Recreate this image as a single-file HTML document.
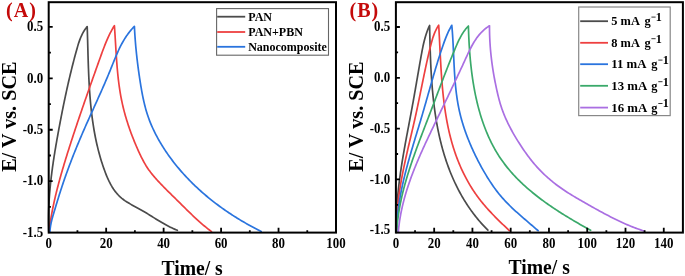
<!DOCTYPE html>
<html><head><meta charset="utf-8"><title>GCD curves</title>
<style>
html,body{margin:0;padding:0;background:#fff;width:685px;height:276px;overflow:hidden;}
svg{display:block;font-family:"Liberation Serif",serif;will-change:transform;}
</style></head><body>
<svg width="685" height="276" viewBox="0 0 685 276">
<rect width="685" height="276" fill="#fff"/>
<path d="M48.80,232.30 L48.75,230.96 L48.70,229.62 L48.65,228.28 L48.62,226.95 L48.59,225.61 L48.57,224.27 L48.55,222.94 L48.54,221.61 L48.53,220.27 L48.53,218.94 L48.54,217.61 L48.55,216.28 L48.57,214.95 L48.60,213.62 L48.63,212.29 L48.66,210.96 L48.71,209.63 L48.75,208.31 L48.80,206.98 L48.86,205.66 L48.92,204.33 L48.99,203.01 L49.06,201.68 L49.14,200.36 L49.22,199.04 L49.31,197.72 L49.40,196.40 L49.50,195.08 L49.60,193.76 L49.71,192.44 L49.82,191.12 L49.94,189.80 L50.05,188.48 L50.18,187.16 L50.31,185.85 L50.44,184.53 L50.57,183.22 L50.72,181.90 L50.86,180.59 L51.01,179.27 L51.16,177.96 L51.31,176.64 L51.47,175.33 L51.64,174.02 L51.80,172.70 L51.97,171.39 L52.15,170.08 L52.32,168.77 L52.50,167.46 L52.68,166.15 L52.87,164.83 L53.06,163.52 L53.25,162.21 L53.44,160.90 L53.64,159.59 L53.84,158.28 L54.04,156.98 L54.25,155.67 L54.46,154.36 L54.67,153.05 L54.88,151.74 L55.09,150.43 L55.31,149.12 L55.53,147.81 L55.75,146.51 L55.97,145.20 L56.20,143.89 L56.43,142.58 L56.65,141.28 L56.89,139.97 L57.12,138.66 L57.35,137.35 L57.59,136.04 L57.82,134.74 L58.06,133.43 L58.30,132.12 L58.54,130.81 L58.78,129.51 L59.02,128.20 L59.27,126.89 L59.51,125.58 L59.76,124.28 L60.01,122.97 L60.25,121.66 L60.50,120.35 L60.75,119.05 L61.01,117.74 L61.26,116.43 L61.52,115.12 L61.77,113.82 L62.03,112.51 L62.29,111.20 L62.55,109.90 L62.81,108.59 L63.07,107.29 L63.34,105.98 L63.61,104.68 L63.87,103.37 L64.14,102.07 L64.41,100.76 L64.69,99.46 L64.96,98.16 L65.24,96.85 L65.52,95.55 L65.80,94.25 L66.08,92.95 L66.36,91.65 L66.65,90.35 L66.93,89.05 L67.22,87.75 L67.51,86.45 L67.80,85.16 L68.10,83.86 L68.39,82.56 L68.69,81.27 L68.99,79.97 L69.29,78.68 L69.60,77.39 L69.90,76.09 L70.21,74.80 L70.52,73.51 L70.84,72.22 L71.15,70.93 L71.47,69.64 L71.79,68.36 L72.11,67.07 L72.43,65.78 L72.76,64.50 L73.08,63.22 L73.41,61.93 L73.75,60.65 L74.08,59.37 L74.42,58.09 L74.76,56.81 L75.10,55.54 L75.45,54.26 L75.79,52.99 L76.14,51.71 L76.50,50.44 L76.85,49.17 L77.21,47.90 L77.58,46.63 L77.95,45.37 L78.34,44.11 L78.74,42.86 L79.16,41.62 L79.59,40.38 L80.05,39.16 L80.53,37.94 L81.04,36.74 L81.57,35.55 L82.14,34.37 L82.74,33.21 L83.38,32.06 L84.06,30.93 L84.77,29.82 L85.54,28.72 L86.34,27.65 L87.20,26.60 L87.25,28.11 L87.30,29.62 L87.35,31.14 L87.40,32.65 L87.44,34.17 L87.49,35.69 L87.53,37.20 L87.57,38.72 L87.62,40.25 L87.66,41.77 L87.70,43.29 L87.74,44.81 L87.78,46.34 L87.82,47.86 L87.86,49.39 L87.91,50.92 L87.95,52.45 L87.99,53.97 L88.03,55.50 L88.08,57.03 L88.12,58.56 L88.17,60.09 L88.22,61.62 L88.27,63.16 L88.32,64.69 L88.37,66.22 L88.43,67.75 L88.49,69.29 L88.55,70.82 L88.61,72.35 L88.67,73.88 L88.74,75.42 L88.81,76.95 L88.88,78.48 L88.96,80.02 L89.03,81.55 L89.12,83.08 L89.20,84.61 L89.29,86.15 L89.38,87.68 L89.48,89.21 L89.58,90.74 L89.69,92.27 L89.80,93.80 L89.91,95.33 L90.03,96.86 L90.15,98.39 L90.28,99.92 L90.41,101.44 L90.55,102.97 L90.69,104.49 L90.84,106.02 L91.00,107.54 L91.16,109.06 L91.32,110.58 L91.50,112.10 L91.67,113.62 L91.86,115.14 L92.05,116.66 L92.25,118.17 L92.45,119.69 L92.66,121.20 L92.88,122.71 L93.11,124.22 L93.34,125.73 L93.58,127.24 L93.83,128.74 L94.08,130.25 L94.35,131.75 L94.62,133.25 L94.90,134.75 L95.19,136.25 L95.48,137.74 L95.79,139.24 L96.10,140.73 L96.42,142.22 L96.75,143.71 L97.10,145.19 L97.45,146.67 L97.80,148.16 L98.17,149.63 L98.55,151.11 L98.94,152.59 L99.34,154.06 L99.75,155.53 L100.17,156.99 L100.60,158.46 L101.04,159.92 L101.49,161.38 L101.95,162.84 L102.42,164.29 L102.90,165.74 L103.40,167.19 L103.90,168.64 L104.42,170.08 L104.95,171.52 L105.50,172.96 L106.05,174.39 L106.63,175.81 L107.22,177.22 L107.83,178.62 L108.47,180.01 L109.12,181.38 L109.80,182.73 L110.51,184.07 L111.24,185.39 L112.00,186.69 L112.80,187.96 L113.62,189.21 L114.48,190.43 L115.37,191.62 L116.30,192.79 L117.27,193.92 L118.28,195.02 L119.33,196.08 L120.42,197.11 L121.56,198.10 L122.74,199.05 L123.96,199.96 L125.22,200.85 L126.51,201.70 L127.83,202.53 L129.17,203.34 L130.53,204.13 L131.90,204.90 L133.28,205.67 L134.68,206.42 L136.07,207.17 L137.46,207.93 L138.84,208.68 L140.21,209.44 L141.56,210.21 L142.90,210.98 L144.23,211.77 L145.55,212.56 L146.85,213.35 L148.15,214.15 L149.44,214.95 L150.73,215.75 L152.01,216.55 L153.30,217.35 L154.57,218.15 L155.85,218.94 L157.13,219.73 L158.42,220.52 L159.71,221.30 L161.00,222.07 L162.30,222.83 L163.61,223.58 L164.92,224.32 L166.25,225.05 L167.59,225.77 L168.94,226.47 L170.31,227.15 L171.69,227.82 L173.09,228.47 L174.50,229.10 L175.94,229.71 L177.40,230.30" stroke="#4b4b4b" stroke-width="1.70" fill="none" stroke-linejoin="round" stroke-linecap="round"/>
<path d="M48.90,232.40 L49.06,231.04 L49.24,229.68 L49.41,228.32 L49.60,226.96 L49.79,225.60 L49.99,224.24 L50.19,222.89 L50.40,221.54 L50.62,220.18 L50.84,218.83 L51.07,217.48 L51.30,216.13 L51.54,214.79 L51.79,213.44 L52.04,212.10 L52.30,210.75 L52.56,209.41 L52.83,208.07 L53.10,206.73 L53.38,205.39 L53.66,204.05 L53.95,202.72 L54.25,201.38 L54.54,200.05 L54.85,198.71 L55.15,197.38 L55.46,196.05 L55.78,194.72 L56.10,193.39 L56.43,192.06 L56.76,190.73 L57.09,189.40 L57.43,188.08 L57.77,186.75 L58.11,185.43 L58.46,184.10 L58.81,182.78 L59.17,181.46 L59.53,180.14 L59.89,178.82 L60.25,177.50 L60.62,176.18 L61.00,174.86 L61.37,173.55 L61.75,172.23 L62.13,170.91 L62.51,169.60 L62.90,168.28 L63.29,166.97 L63.68,165.66 L64.07,164.34 L64.47,163.03 L64.86,161.72 L65.26,160.41 L65.67,159.10 L66.07,157.79 L66.48,156.48 L66.88,155.17 L67.29,153.86 L67.70,152.56 L68.11,151.25 L68.53,149.94 L68.94,148.64 L69.36,147.33 L69.78,146.02 L70.19,144.72 L70.61,143.41 L71.03,142.11 L71.46,140.80 L71.88,139.50 L72.30,138.20 L72.73,136.89 L73.16,135.59 L73.58,134.29 L74.01,132.99 L74.44,131.69 L74.87,130.39 L75.30,129.08 L75.74,127.78 L76.17,126.48 L76.61,125.18 L77.04,123.89 L77.48,122.59 L77.92,121.29 L78.35,119.99 L78.79,118.69 L79.23,117.39 L79.68,116.10 L80.12,114.80 L80.56,113.50 L81.00,112.21 L81.45,110.91 L81.89,109.61 L82.34,108.32 L82.79,107.02 L83.23,105.73 L83.68,104.43 L84.13,103.14 L84.58,101.84 L85.03,100.55 L85.48,99.26 L85.93,97.96 L86.38,96.67 L86.83,95.38 L87.29,94.08 L87.74,92.79 L88.19,91.50 L88.65,90.21 L89.10,88.91 L89.56,87.62 L90.01,86.33 L90.47,85.04 L90.92,83.75 L91.38,82.46 L91.84,81.17 L92.30,79.88 L92.75,78.59 L93.21,77.30 L93.67,76.01 L94.13,74.72 L94.59,73.43 L95.05,72.14 L95.51,70.85 L95.96,69.56 L96.42,68.27 L96.88,66.99 L97.34,65.70 L97.80,64.41 L98.26,63.12 L98.73,61.83 L99.19,60.54 L99.65,59.26 L100.11,57.97 L100.57,56.68 L101.03,55.40 L101.49,54.11 L101.96,52.83 L102.43,51.54 L102.90,50.26 L103.38,48.98 L103.87,47.71 L104.36,46.43 L104.85,45.17 L105.36,43.90 L105.87,42.64 L106.40,41.38 L106.93,40.13 L107.48,38.88 L108.03,37.64 L108.60,36.40 L109.18,35.17 L109.78,33.95 L110.39,32.73 L111.01,31.53 L111.65,30.32 L112.31,29.13 L112.99,27.94 L113.68,26.77 L114.40,25.60 L114.51,27.08 L114.61,28.57 L114.71,30.05 L114.81,31.54 L114.91,33.03 L115.00,34.52 L115.10,36.01 L115.19,37.51 L115.28,39.00 L115.37,40.50 L115.46,42.00 L115.55,43.50 L115.64,45.00 L115.73,46.50 L115.82,48.00 L115.91,49.50 L116.00,51.00 L116.09,52.51 L116.19,54.01 L116.29,55.51 L116.39,57.02 L116.49,58.52 L116.60,60.03 L116.70,61.53 L116.82,63.03 L116.93,64.54 L117.05,66.04 L117.18,67.54 L117.31,69.04 L117.44,70.54 L117.58,72.04 L117.72,73.54 L117.88,75.04 L118.03,76.54 L118.20,78.03 L118.37,79.53 L118.54,81.02 L118.73,82.51 L118.92,84.00 L119.12,85.49 L119.32,86.97 L119.54,88.45 L119.76,89.94 L120.00,91.41 L120.24,92.89 L120.49,94.37 L120.75,95.84 L121.02,97.31 L121.31,98.77 L121.60,100.24 L121.90,101.70 L122.22,103.15 L122.54,104.61 L122.88,106.06 L123.22,107.51 L123.58,108.96 L123.95,110.40 L124.32,111.84 L124.71,113.28 L125.11,114.72 L125.51,116.15 L125.93,117.58 L126.36,119.01 L126.79,120.44 L127.24,121.86 L127.69,123.28 L128.15,124.70 L128.63,126.12 L129.11,127.54 L129.60,128.95 L130.10,130.36 L130.61,131.77 L131.12,133.17 L131.65,134.58 L132.18,135.98 L132.73,137.38 L133.28,138.78 L133.83,140.18 L134.40,141.58 L134.98,142.97 L135.56,144.36 L136.15,145.75 L136.75,147.14 L137.35,148.53 L137.96,149.91 L138.59,151.29 L139.22,152.67 L139.86,154.04 L140.51,155.40 L141.18,156.76 L141.85,158.10 L142.54,159.44 L143.24,160.77 L143.95,162.09 L144.68,163.39 L145.43,164.68 L146.20,165.95 L147.00,167.20 L147.82,168.43 L148.66,169.65 L149.53,170.85 L150.41,172.04 L151.32,173.21 L152.24,174.37 L153.18,175.51 L154.13,176.65 L155.10,177.77 L156.09,178.89 L157.08,180.00 L158.09,181.10 L159.11,182.19 L160.13,183.28 L161.17,184.37 L162.21,185.45 L163.26,186.52 L164.32,187.60 L165.38,188.66 L166.44,189.73 L167.51,190.79 L168.58,191.85 L169.66,192.91 L170.74,193.97 L171.81,195.02 L172.89,196.08 L173.97,197.13 L175.05,198.19 L176.12,199.24 L177.19,200.30 L178.26,201.36 L179.33,202.42 L180.39,203.47 L181.46,204.53 L182.52,205.59 L183.59,206.64 L184.65,207.70 L185.72,208.75 L186.78,209.80 L187.85,210.85 L188.92,211.89 L190.00,212.93 L191.07,213.97 L192.15,215.00 L193.24,216.03 L194.33,217.05 L195.42,218.07 L196.52,219.09 L197.62,220.09 L198.73,221.10 L199.85,222.09 L200.98,223.08 L202.11,224.06 L203.25,225.03 L204.40,226.00 L205.56,226.95 L206.72,227.90 L207.90,228.84 L209.09,229.77 L210.29,230.69 L211.50,231.60" stroke="#ee4040" stroke-width="1.70" fill="none" stroke-linejoin="round" stroke-linecap="round"/>
<path d="M49.90,232.40 L49.96,230.98 L50.07,229.57 L50.23,228.16 L50.42,226.77 L50.64,225.39 L50.90,224.01 L51.18,222.64 L51.50,221.28 L51.83,219.92 L52.18,218.56 L52.55,217.21 L52.94,215.86 L53.33,214.52 L53.73,213.17 L54.13,211.83 L54.53,210.48 L54.94,209.14 L55.34,207.79 L55.74,206.45 L56.15,205.10 L56.56,203.76 L56.96,202.41 L57.37,201.07 L57.79,199.72 L58.20,198.38 L58.61,197.03 L59.03,195.69 L59.45,194.35 L59.88,193.00 L60.30,191.66 L60.73,190.32 L61.17,188.98 L61.61,187.65 L62.05,186.31 L62.49,184.97 L62.94,183.64 L63.39,182.31 L63.85,180.97 L64.31,179.64 L64.77,178.31 L65.23,176.98 L65.70,175.66 L66.18,174.33 L66.65,173.00 L67.13,171.68 L67.61,170.35 L68.10,169.03 L68.58,167.71 L69.08,166.39 L69.57,165.07 L70.07,163.75 L70.57,162.44 L71.07,161.12 L71.58,159.81 L72.09,158.49 L72.60,157.18 L73.11,155.87 L73.63,154.56 L74.15,153.25 L74.67,151.94 L75.20,150.63 L75.73,149.32 L76.26,148.02 L76.79,146.71 L77.33,145.41 L77.86,144.11 L78.40,142.81 L78.95,141.51 L79.49,140.21 L80.04,138.91 L80.59,137.61 L81.14,136.31 L81.70,135.02 L82.26,133.72 L82.81,132.43 L83.38,131.14 L83.94,129.85 L84.50,128.56 L85.07,127.27 L85.64,125.98 L86.21,124.69 L86.78,123.40 L87.36,122.12 L87.93,120.83 L88.51,119.55 L89.08,118.26 L89.66,116.98 L90.24,115.69 L90.82,114.41 L91.40,113.12 L91.98,111.84 L92.56,110.56 L93.15,109.28 L93.73,107.99 L94.31,106.71 L94.89,105.43 L95.47,104.14 L96.05,102.86 L96.63,101.58 L97.21,100.29 L97.79,99.01 L98.37,97.72 L98.95,96.44 L99.53,95.15 L100.10,93.87 L100.67,92.58 L101.25,91.29 L101.82,90.01 L102.39,88.72 L102.95,87.43 L103.52,86.13 L104.08,84.84 L104.65,83.55 L105.20,82.26 L105.76,80.96 L106.32,79.66 L106.87,78.37 L107.42,77.07 L107.96,75.77 L108.51,74.46 L109.05,73.16 L109.58,71.85 L110.12,70.55 L110.65,69.24 L111.17,67.93 L111.70,66.62 L112.22,65.31 L112.75,64.00 L113.27,62.69 L113.80,61.38 L114.33,60.07 L114.87,58.77 L115.41,57.46 L115.95,56.17 L116.51,54.87 L117.07,53.58 L117.64,52.30 L118.22,51.02 L118.81,49.75 L119.41,48.48 L120.02,47.22 L120.65,45.97 L121.30,44.73 L121.95,43.49 L122.63,42.27 L123.32,41.05 L124.04,39.85 L124.77,38.65 L125.52,37.47 L126.30,36.30 L127.09,35.14 L127.91,34.00 L128.76,32.87 L129.63,31.75 L130.53,30.65 L131.45,29.56 L132.40,28.49 L133.39,27.44 L134.40,26.40 L134.48,28.01 L134.56,29.62 L134.65,31.23 L134.75,32.84 L134.85,34.45 L134.96,36.06 L135.07,37.67 L135.19,39.28 L135.31,40.89 L135.44,42.50 L135.57,44.11 L135.71,45.71 L135.86,47.32 L136.01,48.93 L136.17,50.54 L136.33,52.14 L136.49,53.75 L136.67,55.36 L136.84,56.96 L137.02,58.57 L137.21,60.17 L137.40,61.77 L137.60,63.38 L137.80,64.98 L138.00,66.58 L138.21,68.19 L138.43,69.79 L138.65,71.39 L138.87,72.99 L139.10,74.59 L139.34,76.19 L139.58,77.79 L139.82,79.38 L140.07,80.98 L140.32,82.58 L140.57,84.17 L140.83,85.77 L141.10,87.36 L141.37,88.96 L141.65,90.55 L141.94,92.14 L142.24,93.72 L142.54,95.31 L142.86,96.89 L143.19,98.47 L143.53,100.04 L143.88,101.62 L144.24,103.18 L144.62,104.75 L145.02,106.31 L145.43,107.86 L145.85,109.41 L146.30,110.95 L146.76,112.49 L147.24,114.03 L147.74,115.55 L148.26,117.07 L148.80,118.59 L149.36,120.09 L149.94,121.59 L150.54,123.09 L151.16,124.58 L151.80,126.06 L152.45,127.53 L153.12,129.00 L153.81,130.46 L154.51,131.91 L155.23,133.35 L155.97,134.79 L156.72,136.22 L157.49,137.64 L158.27,139.06 L159.07,140.47 L159.88,141.86 L160.70,143.26 L161.54,144.64 L162.38,146.02 L163.24,147.39 L164.12,148.75 L165.00,150.10 L165.89,151.44 L166.80,152.78 L167.72,154.11 L168.64,155.43 L169.58,156.74 L170.53,158.04 L171.49,159.34 L172.46,160.62 L173.44,161.90 L174.43,163.17 L175.43,164.44 L176.44,165.69 L177.46,166.94 L178.49,168.17 L179.53,169.41 L180.57,170.63 L181.63,171.84 L182.70,173.05 L183.78,174.25 L184.86,175.44 L185.96,176.62 L187.06,177.79 L188.17,178.96 L189.29,180.12 L190.42,181.26 L191.56,182.41 L192.71,183.54 L193.86,184.67 L195.02,185.78 L196.20,186.89 L197.37,187.99 L198.56,189.09 L199.76,190.17 L200.96,191.25 L202.17,192.32 L203.38,193.38 L204.61,194.43 L205.84,195.48 L207.08,196.52 L208.32,197.55 L209.57,198.57 L210.83,199.58 L212.10,200.59 L213.37,201.58 L214.65,202.57 L215.94,203.56 L217.23,204.53 L218.52,205.49 L219.83,206.45 L221.14,207.40 L222.45,208.34 L223.77,209.28 L225.10,210.20 L226.43,211.12 L227.77,212.03 L229.11,212.93 L230.46,213.83 L231.81,214.71 L233.17,215.59 L234.53,216.46 L235.90,217.32 L237.27,218.18 L238.65,219.03 L240.03,219.86 L241.41,220.69 L242.80,221.52 L244.20,222.33 L245.59,223.14 L246.99,223.94 L248.40,224.73 L249.81,225.51 L251.22,226.29 L252.64,227.06 L254.06,227.82 L255.48,228.57 L256.90,229.31 L258.33,230.05 L259.77,230.78 L261.20,231.50" stroke="#2a74de" stroke-width="1.70" fill="none" stroke-linejoin="round" stroke-linecap="round"/>
<path d="M396.60,232.30 L396.56,230.97 L396.52,229.63 L396.50,228.30 L396.48,226.97 L396.46,225.64 L396.46,224.31 L396.46,222.98 L396.46,221.66 L396.47,220.33 L396.49,219.00 L396.52,217.68 L396.55,216.35 L396.58,215.03 L396.63,213.70 L396.68,212.38 L396.73,211.06 L396.79,209.74 L396.86,208.42 L396.93,207.10 L397.01,205.78 L397.09,204.46 L397.18,203.14 L397.27,201.82 L397.37,200.50 L397.47,199.19 L397.58,197.87 L397.69,196.56 L397.81,195.24 L397.93,193.93 L398.06,192.61 L398.19,191.30 L398.32,189.99 L398.46,188.67 L398.61,187.36 L398.76,186.05 L398.91,184.74 L399.07,183.43 L399.23,182.12 L399.39,180.81 L399.56,179.50 L399.73,178.19 L399.91,176.88 L400.08,175.57 L400.27,174.26 L400.45,172.96 L400.64,171.65 L400.83,170.34 L401.03,169.04 L401.22,167.73 L401.43,166.43 L401.63,165.12 L401.83,163.81 L402.04,162.51 L402.25,161.20 L402.47,159.90 L402.68,158.60 L402.90,157.29 L403.12,155.99 L403.35,154.68 L403.57,153.38 L403.80,152.08 L404.03,150.78 L404.26,149.47 L404.49,148.17 L404.72,146.87 L404.96,145.56 L405.19,144.26 L405.43,142.96 L405.67,141.66 L405.91,140.36 L406.15,139.05 L406.39,137.75 L406.63,136.45 L406.88,135.15 L407.12,133.85 L407.37,132.55 L407.61,131.24 L407.86,129.94 L408.11,128.64 L408.35,127.34 L408.60,126.04 L408.85,124.74 L409.09,123.43 L409.34,122.13 L409.59,120.83 L409.84,119.53 L410.08,118.23 L410.33,116.93 L410.57,115.62 L410.82,114.32 L411.06,113.02 L411.31,111.72 L411.55,110.41 L411.79,109.11 L412.03,107.81 L412.27,106.50 L412.51,105.20 L412.75,103.90 L412.99,102.59 L413.22,101.29 L413.45,99.99 L413.69,98.68 L413.92,97.38 L414.15,96.07 L414.38,94.77 L414.61,93.46 L414.84,92.16 L415.07,90.85 L415.29,89.55 L415.52,88.24 L415.75,86.94 L415.97,85.63 L416.20,84.33 L416.43,83.02 L416.65,81.72 L416.88,80.41 L417.10,79.11 L417.33,77.80 L417.55,76.50 L417.78,75.19 L418.00,73.89 L418.23,72.59 L418.45,71.28 L418.68,69.98 L418.91,68.67 L419.13,67.37 L419.36,66.07 L419.59,64.76 L419.82,63.46 L420.05,62.16 L420.28,60.86 L420.51,59.55 L420.74,58.25 L420.97,56.95 L421.21,55.65 L421.44,54.35 L421.68,53.05 L421.92,51.75 L422.17,50.46 L422.42,49.16 L422.68,47.87 L422.94,46.58 L423.21,45.29 L423.50,44.01 L423.79,42.73 L424.10,41.46 L424.41,40.19 L424.75,38.93 L425.09,37.67 L425.45,36.42 L425.83,35.17 L426.23,33.93 L426.65,32.70 L427.08,31.48 L427.54,30.27 L428.02,29.06 L428.52,27.86 L429.04,26.68 L429.60,25.50 L429.63,26.85 L429.66,28.20 L429.68,29.56 L429.71,30.91 L429.74,32.27 L429.77,33.63 L429.80,34.98 L429.83,36.34 L429.86,37.71 L429.90,39.07 L429.93,40.43 L429.96,41.80 L430.00,43.17 L430.04,44.53 L430.08,45.90 L430.11,47.27 L430.16,48.64 L430.20,50.02 L430.24,51.39 L430.29,52.76 L430.34,54.14 L430.38,55.51 L430.44,56.89 L430.49,58.26 L430.54,59.64 L430.60,61.02 L430.66,62.39 L430.72,63.77 L430.79,65.15 L430.85,66.53 L430.92,67.91 L430.99,69.29 L431.07,70.67 L431.15,72.05 L431.23,73.43 L431.31,74.81 L431.40,76.19 L431.49,77.57 L431.58,78.96 L431.67,80.34 L431.77,81.72 L431.88,83.10 L431.98,84.48 L432.09,85.86 L432.20,87.24 L432.32,88.62 L432.44,90.00 L432.57,91.38 L432.70,92.75 L432.83,94.13 L432.96,95.51 L433.11,96.89 L433.25,98.26 L433.40,99.64 L433.55,101.01 L433.71,102.39 L433.88,103.76 L434.04,105.13 L434.22,106.50 L434.39,107.87 L434.58,109.24 L434.76,110.61 L434.96,111.98 L435.15,113.35 L435.36,114.71 L435.57,116.08 L435.78,117.44 L436.00,118.80 L436.22,120.16 L436.45,121.52 L436.69,122.88 L436.93,124.23 L437.18,125.59 L437.43,126.94 L437.69,128.29 L437.96,129.64 L438.23,130.99 L438.51,132.34 L438.79,133.68 L439.08,135.03 L439.38,136.37 L439.69,137.71 L440.00,139.04 L440.31,140.38 L440.64,141.71 L440.97,143.04 L441.31,144.37 L441.65,145.70 L442.00,147.03 L442.36,148.35 L442.73,149.67 L443.11,150.99 L443.49,152.30 L443.88,153.62 L444.27,154.93 L444.68,156.23 L445.09,157.54 L445.51,158.84 L445.94,160.14 L446.37,161.44 L446.82,162.73 L447.27,164.03 L447.73,165.31 L448.20,166.60 L448.67,167.88 L449.16,169.16 L449.65,170.44 L450.15,171.71 L450.66,172.98 L451.18,174.24 L451.70,175.50 L452.24,176.76 L452.78,178.01 L453.33,179.26 L453.89,180.51 L454.46,181.75 L455.04,182.99 L455.62,184.22 L456.22,185.45 L456.82,186.67 L457.44,187.89 L458.06,189.11 L458.69,190.32 L459.33,191.52 L459.98,192.73 L460.64,193.92 L461.31,195.11 L461.98,196.30 L462.67,197.48 L463.37,198.66 L464.07,199.83 L464.79,201.00 L465.51,202.16 L466.25,203.31 L466.99,204.46 L467.75,205.61 L468.51,206.74 L469.28,207.88 L470.07,209.00 L470.86,210.12 L471.66,211.24 L472.48,212.35 L473.30,213.45 L474.14,214.55 L474.98,215.64 L475.83,216.72 L476.70,217.80 L477.57,218.87 L478.46,219.94 L479.36,220.99 L480.26,222.04 L481.18,223.09 L482.11,224.13 L483.05,225.16 L484.00,226.18 L484.96,227.20 L485.93,228.20 L486.91,229.21 L487.90,230.20" stroke="#4b4b4b" stroke-width="1.70" fill="none" stroke-linejoin="round" stroke-linecap="round"/>
<path d="M396.60,232.30 L396.58,230.95 L396.56,229.60 L396.56,228.26 L396.56,226.91 L396.58,225.57 L396.60,224.23 L396.63,222.89 L396.67,221.55 L396.71,220.21 L396.77,218.87 L396.83,217.54 L396.90,216.20 L396.98,214.87 L397.06,213.53 L397.16,212.20 L397.26,210.87 L397.36,209.54 L397.48,208.21 L397.60,206.89 L397.73,205.56 L397.86,204.23 L398.00,202.91 L398.15,201.59 L398.30,200.26 L398.46,198.94 L398.63,197.62 L398.80,196.30 L398.98,194.98 L399.16,193.66 L399.35,192.35 L399.55,191.03 L399.75,189.71 L399.95,188.40 L400.16,187.08 L400.38,185.77 L400.60,184.45 L400.82,183.14 L401.05,181.83 L401.28,180.52 L401.52,179.21 L401.76,177.90 L402.00,176.59 L402.25,175.28 L402.51,173.97 L402.76,172.66 L403.02,171.35 L403.29,170.04 L403.55,168.74 L403.82,167.43 L404.09,166.12 L404.37,164.82 L404.65,163.51 L404.93,162.21 L405.21,160.90 L405.50,159.60 L405.79,158.29 L406.08,156.99 L406.37,155.69 L406.66,154.38 L406.96,153.08 L407.25,151.78 L407.55,150.47 L407.85,149.17 L408.15,147.87 L408.45,146.56 L408.76,145.26 L409.06,143.96 L409.37,142.66 L409.67,141.35 L409.98,140.05 L410.28,138.75 L410.59,137.45 L410.89,136.14 L411.20,134.84 L411.50,133.54 L411.81,132.23 L412.11,130.93 L412.42,129.63 L412.72,128.32 L413.03,127.02 L413.33,125.71 L413.63,124.41 L413.93,123.11 L414.23,121.80 L414.52,120.49 L414.82,119.19 L415.11,117.88 L415.40,116.58 L415.69,115.27 L415.98,113.96 L416.26,112.66 L416.55,111.35 L416.83,110.04 L417.11,108.73 L417.39,107.42 L417.66,106.11 L417.94,104.80 L418.21,103.49 L418.49,102.18 L418.76,100.87 L419.03,99.56 L419.30,98.25 L419.57,96.94 L419.84,95.63 L420.10,94.32 L420.37,93.01 L420.64,91.70 L420.91,90.39 L421.17,89.08 L421.44,87.77 L421.71,86.46 L421.97,85.15 L422.24,83.84 L422.51,82.53 L422.77,81.22 L423.04,79.91 L423.31,78.61 L423.58,77.30 L423.85,75.99 L424.12,74.68 L424.40,73.37 L424.67,72.07 L424.95,70.76 L425.22,69.46 L425.50,68.15 L425.78,66.85 L426.06,65.54 L426.35,64.24 L426.63,62.93 L426.92,61.63 L427.21,60.33 L427.50,59.03 L427.80,57.73 L428.09,56.43 L428.39,55.13 L428.69,53.83 L429.00,52.53 L429.31,51.24 L429.62,49.94 L429.93,48.65 L430.25,47.35 L430.57,46.06 L430.89,44.77 L431.23,43.48 L431.57,42.19 L431.92,40.91 L432.29,39.64 L432.68,38.37 L433.08,37.11 L433.51,35.86 L433.96,34.63 L434.44,33.40 L434.94,32.18 L435.48,30.98 L436.04,29.79 L436.65,28.62 L437.29,27.46 L437.97,26.32 L438.70,25.20 L438.78,26.60 L438.87,27.99 L438.95,29.39 L439.02,30.79 L439.10,32.19 L439.18,33.60 L439.25,35.00 L439.33,36.41 L439.40,37.81 L439.47,39.22 L439.54,40.63 L439.61,42.04 L439.68,43.45 L439.75,44.86 L439.83,46.28 L439.90,47.69 L439.97,49.10 L440.04,50.52 L440.11,51.93 L440.18,53.35 L440.25,54.77 L440.33,56.19 L440.40,57.60 L440.48,59.02 L440.55,60.44 L440.63,61.86 L440.71,63.28 L440.79,64.70 L440.87,66.12 L440.96,67.54 L441.05,68.96 L441.14,70.38 L441.23,71.80 L441.32,73.22 L441.42,74.64 L441.52,76.06 L441.62,77.48 L441.72,78.90 L441.83,80.32 L441.94,81.74 L442.06,83.16 L442.17,84.58 L442.30,86.00 L442.42,87.41 L442.55,88.83 L442.68,90.25 L442.82,91.66 L442.96,93.08 L443.11,94.49 L443.26,95.90 L443.41,97.32 L443.57,98.73 L443.74,100.14 L443.91,101.55 L444.09,102.96 L444.27,104.36 L444.45,105.77 L444.64,107.17 L444.84,108.58 L445.05,109.98 L445.25,111.38 L445.47,112.78 L445.69,114.18 L445.92,115.57 L446.16,116.97 L446.40,118.36 L446.64,119.75 L446.90,121.14 L447.16,122.53 L447.43,123.92 L447.71,125.30 L447.99,126.69 L448.28,128.07 L448.58,129.44 L448.89,130.82 L449.21,132.20 L449.53,133.57 L449.86,134.94 L450.20,136.31 L450.55,137.67 L450.91,139.03 L451.27,140.40 L451.65,141.75 L452.03,143.11 L452.43,144.46 L452.83,145.81 L453.24,147.16 L453.66,148.51 L454.09,149.85 L454.54,151.19 L454.99,152.53 L455.45,153.86 L455.92,155.19 L456.40,156.52 L456.89,157.84 L457.40,159.17 L457.91,160.48 L458.43,161.80 L458.97,163.11 L459.51,164.41 L460.06,165.71 L460.63,167.01 L461.20,168.30 L461.79,169.59 L462.39,170.88 L462.99,172.15 L463.61,173.43 L464.24,174.69 L464.88,175.96 L465.53,177.21 L466.19,178.46 L466.87,179.71 L467.55,180.95 L468.24,182.18 L468.95,183.41 L469.66,184.62 L470.39,185.84 L471.13,187.04 L471.88,188.24 L472.64,189.43 L473.41,190.62 L474.20,191.80 L474.99,192.97 L475.80,194.13 L476.62,195.28 L477.45,196.43 L478.29,197.56 L479.14,198.69 L480.00,199.81 L480.88,200.93 L481.76,202.03 L482.66,203.13 L483.56,204.22 L484.48,205.30 L485.40,206.37 L486.34,207.44 L487.28,208.50 L488.23,209.56 L489.18,210.61 L490.15,211.65 L491.12,212.69 L492.09,213.72 L493.08,214.74 L494.06,215.77 L495.06,216.78 L496.06,217.79 L497.06,218.80 L498.07,219.80 L499.08,220.80 L500.09,221.79 L501.11,222.78 L502.13,223.77 L503.15,224.75 L504.17,225.73 L505.20,226.71 L506.22,227.69 L507.25,228.66 L508.27,229.63 L509.30,230.60" stroke="#ee4040" stroke-width="1.70" fill="none" stroke-linejoin="round" stroke-linecap="round"/>
<path d="M396.60,232.30 L396.62,230.93 L396.66,229.57 L396.70,228.21 L396.76,226.84 L396.82,225.48 L396.89,224.13 L396.97,222.77 L397.06,221.42 L397.16,220.06 L397.27,218.71 L397.39,217.36 L397.51,216.01 L397.64,214.67 L397.79,213.32 L397.94,211.98 L398.09,210.63 L398.26,209.29 L398.43,207.95 L398.61,206.62 L398.80,205.28 L398.99,203.94 L399.20,202.61 L399.41,201.28 L399.62,199.95 L399.85,198.62 L400.08,197.29 L400.31,195.96 L400.55,194.63 L400.80,193.31 L401.06,191.98 L401.32,190.66 L401.59,189.34 L401.86,188.01 L402.14,186.69 L402.42,185.38 L402.71,184.06 L403.00,182.74 L403.30,181.42 L403.61,180.11 L403.91,178.79 L404.23,177.48 L404.55,176.17 L404.87,174.85 L405.20,173.54 L405.53,172.23 L405.86,170.92 L406.20,169.61 L406.54,168.30 L406.89,167.00 L407.24,165.69 L407.59,164.38 L407.95,163.08 L408.31,161.77 L408.67,160.47 L409.04,159.16 L409.40,157.86 L409.78,156.55 L410.15,155.25 L410.52,153.95 L410.90,152.64 L411.28,151.34 L411.66,150.04 L412.05,148.74 L412.43,147.44 L412.82,146.14 L413.21,144.84 L413.60,143.54 L413.99,142.24 L414.38,140.94 L414.77,139.64 L415.16,138.34 L415.56,137.04 L415.95,135.74 L416.35,134.44 L416.74,133.14 L417.14,131.84 L417.53,130.54 L417.93,129.24 L418.32,127.94 L418.72,126.64 L419.11,125.34 L419.50,124.04 L419.89,122.74 L420.29,121.44 L420.68,120.14 L421.07,118.83 L421.45,117.53 L421.84,116.23 L422.22,114.93 L422.61,113.63 L422.99,112.32 L423.37,111.02 L423.75,109.72 L424.12,108.41 L424.50,107.11 L424.88,105.81 L425.25,104.50 L425.62,103.20 L426.00,101.89 L426.37,100.59 L426.74,99.29 L427.11,97.98 L427.48,96.68 L427.85,95.37 L428.22,94.07 L428.59,92.77 L428.96,91.46 L429.33,90.16 L429.70,88.86 L430.07,87.55 L430.44,86.25 L430.81,84.95 L431.19,83.65 L431.56,82.34 L431.93,81.04 L432.31,79.74 L432.68,78.44 L433.06,77.14 L433.44,75.84 L433.82,74.55 L434.20,73.25 L434.58,71.95 L434.97,70.66 L435.35,69.36 L435.74,68.06 L436.13,66.77 L436.53,65.48 L436.92,64.19 L437.32,62.89 L437.71,61.60 L438.12,60.31 L438.52,59.02 L438.93,57.74 L439.34,56.45 L439.75,55.17 L440.16,53.88 L440.58,52.60 L441.00,51.32 L441.43,50.03 L441.86,48.75 L442.29,47.48 L442.72,46.20 L443.16,44.92 L443.61,43.65 L444.06,42.38 L444.52,41.11 L444.99,39.85 L445.47,38.60 L445.96,37.34 L446.47,36.10 L446.99,34.86 L447.52,33.63 L448.07,32.41 L448.64,31.20 L449.23,30.00 L449.84,28.80 L450.47,27.62 L451.12,26.46 L451.80,25.30 L451.93,26.74 L452.06,28.18 L452.18,29.62 L452.29,31.07 L452.40,32.51 L452.50,33.96 L452.60,35.41 L452.69,36.87 L452.78,38.32 L452.87,39.78 L452.95,41.24 L453.03,42.70 L453.11,44.16 L453.18,45.62 L453.25,47.09 L453.32,48.55 L453.39,50.02 L453.46,51.48 L453.53,52.95 L453.59,54.42 L453.66,55.89 L453.73,57.36 L453.79,58.83 L453.86,60.30 L453.93,61.77 L454.00,63.24 L454.07,64.71 L454.15,66.19 L454.23,67.66 L454.31,69.13 L454.39,70.60 L454.48,72.07 L454.57,73.54 L454.67,75.01 L454.77,76.47 L454.87,77.94 L454.98,79.41 L455.10,80.87 L455.22,82.33 L455.35,83.80 L455.48,85.26 L455.63,86.72 L455.78,88.18 L455.93,89.63 L456.10,91.09 L456.27,92.54 L456.45,93.99 L456.65,95.44 L456.85,96.89 L457.06,98.33 L457.28,99.77 L457.51,101.21 L457.75,102.65 L458.00,104.08 L458.27,105.51 L458.54,106.94 L458.83,108.37 L459.13,109.79 L459.44,111.21 L459.77,112.63 L460.10,114.04 L460.45,115.45 L460.82,116.86 L461.19,118.26 L461.57,119.66 L461.97,121.06 L462.38,122.45 L462.80,123.85 L463.23,125.23 L463.67,126.62 L464.12,128.00 L464.58,129.38 L465.06,130.76 L465.54,132.13 L466.03,133.50 L466.54,134.87 L467.05,136.23 L467.57,137.60 L468.11,138.95 L468.65,140.31 L469.20,141.66 L469.76,143.01 L470.33,144.36 L470.91,145.70 L471.49,147.04 L472.09,148.38 L472.69,149.72 L473.30,151.05 L473.92,152.38 L474.55,153.71 L475.19,155.03 L475.83,156.35 L476.48,157.67 L477.14,158.98 L477.80,160.29 L478.48,161.60 L479.16,162.90 L479.85,164.20 L480.54,165.50 L481.25,166.79 L481.96,168.07 L482.68,169.36 L483.40,170.63 L484.14,171.90 L484.88,173.17 L485.63,174.43 L486.38,175.68 L487.15,176.93 L487.92,178.18 L488.70,179.41 L489.48,180.65 L490.28,181.87 L491.09,183.09 L491.90,184.30 L492.72,185.50 L493.56,186.69 L494.40,187.87 L495.26,189.05 L496.13,190.22 L497.01,191.37 L497.90,192.52 L498.80,193.66 L499.72,194.78 L500.65,195.90 L501.60,197.00 L502.56,198.10 L503.53,199.18 L504.51,200.25 L505.50,201.31 L506.51,202.37 L507.53,203.41 L508.55,204.45 L509.59,205.48 L510.63,206.50 L511.69,207.51 L512.75,208.52 L513.82,209.52 L514.89,210.52 L515.97,211.51 L517.06,212.49 L518.15,213.47 L519.25,214.44 L520.35,215.41 L521.46,216.38 L522.57,217.34 L523.68,218.30 L524.79,219.26 L525.90,220.22 L527.02,221.17 L528.13,222.12 L529.25,223.07 L530.36,224.03 L531.48,224.98 L532.59,225.93 L533.70,226.88 L534.80,227.83 L535.91,228.79 L537.01,229.74 L538.10,230.70" stroke="#2a74de" stroke-width="1.70" fill="none" stroke-linejoin="round" stroke-linecap="round"/>
<path d="M396.60,232.30 L396.69,230.90 L396.78,229.51 L396.89,228.11 L397.00,226.72 L397.13,225.33 L397.27,223.95 L397.41,222.56 L397.57,221.18 L397.73,219.80 L397.90,218.43 L398.09,217.05 L398.28,215.68 L398.48,214.31 L398.68,212.94 L398.90,211.57 L399.13,210.21 L399.36,208.85 L399.60,207.49 L399.85,206.13 L400.11,204.77 L400.37,203.42 L400.65,202.07 L400.93,200.71 L401.22,199.37 L401.51,198.02 L401.81,196.67 L402.12,195.33 L402.44,193.99 L402.76,192.65 L403.09,191.31 L403.43,189.97 L403.77,188.63 L404.12,187.30 L404.47,185.97 L404.83,184.63 L405.20,183.30 L405.57,181.98 L405.95,180.65 L406.33,179.32 L406.72,178.00 L407.12,176.68 L407.51,175.35 L407.92,174.03 L408.33,172.71 L408.74,171.40 L409.16,170.08 L409.58,168.76 L410.01,167.45 L410.44,166.13 L410.88,164.82 L411.31,163.51 L411.76,162.20 L412.20,160.89 L412.65,159.58 L413.11,158.27 L413.57,156.96 L414.03,155.66 L414.49,154.35 L414.96,153.05 L415.42,151.74 L415.90,150.44 L416.37,149.13 L416.85,147.83 L417.33,146.53 L417.81,145.23 L418.29,143.93 L418.78,142.63 L419.26,141.33 L419.75,140.03 L420.24,138.73 L420.74,137.43 L421.23,136.13 L421.72,134.84 L422.22,133.54 L422.71,132.24 L423.21,130.94 L423.71,129.65 L424.21,128.35 L424.71,127.05 L425.20,125.76 L425.70,124.46 L426.20,123.17 L426.70,121.87 L427.20,120.57 L427.70,119.28 L428.20,117.98 L428.70,116.68 L429.19,115.39 L429.69,114.09 L430.18,112.80 L430.68,111.50 L431.17,110.20 L431.66,108.90 L432.16,107.61 L432.65,106.31 L433.14,105.01 L433.63,103.72 L434.12,102.42 L434.61,101.12 L435.10,99.83 L435.59,98.53 L436.08,97.23 L436.57,95.94 L437.06,94.64 L437.55,93.34 L438.04,92.05 L438.53,90.75 L439.02,89.46 L439.52,88.16 L440.01,86.87 L440.50,85.57 L440.99,84.28 L441.49,82.99 L441.98,81.69 L442.48,80.40 L442.97,79.11 L443.47,77.81 L443.97,76.52 L444.46,75.23 L444.96,73.94 L445.46,72.65 L445.97,71.36 L446.47,70.07 L446.98,68.79 L447.48,67.50 L447.99,66.21 L448.50,64.93 L449.01,63.64 L449.52,62.36 L450.03,61.07 L450.55,59.79 L451.07,58.51 L451.59,57.23 L452.11,55.95 L452.63,54.67 L453.16,53.39 L453.69,52.11 L454.22,50.84 L454.75,49.56 L455.28,48.29 L455.82,47.01 L456.37,45.74 L456.92,44.48 L457.48,43.22 L458.05,41.97 L458.64,40.72 L459.24,39.49 L459.86,38.27 L460.49,37.06 L461.15,35.87 L461.84,34.69 L462.55,33.53 L463.28,32.39 L464.05,31.26 L464.85,30.16 L465.68,29.08 L466.55,28.03 L467.45,27.00 L468.40,26.00 L468.44,27.55 L468.49,29.10 L468.54,30.66 L468.60,32.22 L468.66,33.78 L468.72,35.35 L468.79,36.92 L468.86,38.50 L468.94,40.08 L469.02,41.66 L469.11,43.25 L469.20,44.83 L469.30,46.43 L469.40,48.02 L469.51,49.62 L469.62,51.21 L469.74,52.81 L469.87,54.42 L470.00,56.02 L470.14,57.63 L470.28,59.23 L470.43,60.84 L470.59,62.45 L470.76,64.06 L470.93,65.67 L471.11,67.28 L471.29,68.89 L471.49,70.50 L471.69,72.11 L471.89,73.72 L472.11,75.33 L472.33,76.94 L472.57,78.55 L472.81,80.16 L473.06,81.76 L473.31,83.37 L473.58,84.97 L473.85,86.57 L474.14,88.17 L474.43,89.77 L474.73,91.36 L475.04,92.96 L475.36,94.55 L475.70,96.14 L476.04,97.72 L476.39,99.30 L476.75,100.88 L477.12,102.45 L477.50,104.03 L477.89,105.59 L478.29,107.16 L478.71,108.72 L479.13,110.27 L479.57,111.82 L480.01,113.37 L480.47,114.91 L480.94,116.44 L481.42,117.97 L481.92,119.50 L482.42,121.02 L482.94,122.53 L483.47,124.04 L484.01,125.54 L484.57,127.03 L485.14,128.52 L485.72,130.01 L486.31,131.48 L486.92,132.95 L487.54,134.41 L488.17,135.86 L488.82,137.31 L489.48,138.75 L490.15,140.18 L490.84,141.60 L491.54,143.02 L492.26,144.42 L492.99,145.82 L493.74,147.21 L494.50,148.59 L495.27,149.96 L496.06,151.32 L496.87,152.67 L497.69,154.01 L498.53,155.35 L499.38,156.67 L500.25,157.98 L501.13,159.28 L502.03,160.57 L502.95,161.85 L503.88,163.12 L504.82,164.38 L505.79,165.63 L506.76,166.87 L507.76,168.10 L508.76,169.32 L509.78,170.53 L510.82,171.73 L511.86,172.92 L512.92,174.09 L514.00,175.26 L515.09,176.42 L516.19,177.57 L517.30,178.72 L518.42,179.85 L519.56,180.97 L520.70,182.08 L521.86,183.19 L523.03,184.28 L524.21,185.37 L525.40,186.45 L526.60,187.52 L527.81,188.58 L529.02,189.63 L530.25,190.67 L531.49,191.71 L532.73,192.73 L533.99,193.75 L535.25,194.76 L536.52,195.76 L537.80,196.76 L539.08,197.75 L540.37,198.72 L541.67,199.70 L542.98,200.66 L544.29,201.62 L545.60,202.57 L546.93,203.51 L548.25,204.44 L549.59,205.37 L550.93,206.29 L552.27,207.20 L553.61,208.11 L554.97,209.01 L556.32,209.90 L557.68,210.79 L559.04,211.67 L560.40,212.54 L561.77,213.41 L563.14,214.27 L564.51,215.12 L565.88,215.97 L567.26,216.81 L568.63,217.65 L570.01,218.48 L571.39,219.30 L572.77,220.12 L574.14,220.94 L575.52,221.75 L576.90,222.55 L578.28,223.35 L579.65,224.14 L581.03,224.93 L582.40,225.71 L583.78,226.48 L585.15,227.26 L586.51,228.02 L587.88,228.79 L589.24,229.55 L590.60,230.30" stroke="#3aa96a" stroke-width="1.70" fill="none" stroke-linejoin="round" stroke-linecap="round"/>
<path d="M398.30,232.00 L398.43,230.55 L398.57,229.11 L398.72,227.67 L398.88,226.23 L399.06,224.79 L399.24,223.36 L399.44,221.93 L399.65,220.50 L399.88,219.08 L400.11,217.66 L400.35,216.25 L400.61,214.83 L400.87,213.42 L401.15,212.01 L401.44,210.61 L401.73,209.21 L402.04,207.81 L402.36,206.41 L402.68,205.02 L403.02,203.63 L403.37,202.24 L403.72,200.85 L404.08,199.47 L404.46,198.09 L404.84,196.71 L405.23,195.33 L405.63,193.96 L406.04,192.59 L406.45,191.22 L406.87,189.85 L407.31,188.49 L407.75,187.13 L408.19,185.77 L408.65,184.41 L409.11,183.06 L409.58,181.70 L410.05,180.35 L410.53,179.00 L411.02,177.66 L411.52,176.31 L412.02,174.97 L412.53,173.63 L413.04,172.29 L413.56,170.95 L414.08,169.61 L414.61,168.28 L415.15,166.95 L415.69,165.62 L416.24,164.29 L416.79,162.96 L417.34,161.63 L417.90,160.31 L418.47,158.99 L419.03,157.67 L419.61,156.35 L420.18,155.03 L420.76,153.71 L421.35,152.39 L421.94,151.08 L422.53,149.76 L423.12,148.45 L423.72,147.14 L424.32,145.83 L424.92,144.52 L425.52,143.21 L426.13,141.91 L426.74,140.60 L427.35,139.29 L427.96,137.99 L428.58,136.69 L429.20,135.38 L429.81,134.08 L430.43,132.78 L431.05,131.48 L431.67,130.18 L432.30,128.88 L432.92,127.58 L433.54,126.29 L434.16,124.99 L434.79,123.69 L435.41,122.40 L436.03,121.10 L436.66,119.80 L437.28,118.51 L437.91,117.21 L438.53,115.92 L439.15,114.62 L439.78,113.33 L440.40,112.04 L441.02,110.74 L441.65,109.45 L442.27,108.15 L442.89,106.86 L443.52,105.57 L444.14,104.27 L444.76,102.98 L445.38,101.69 L446.01,100.39 L446.63,99.10 L447.25,97.80 L447.87,96.51 L448.49,95.21 L449.11,93.92 L449.73,92.62 L450.35,91.33 L450.97,90.03 L451.59,88.73 L452.20,87.44 L452.82,86.14 L453.44,84.84 L454.06,83.54 L454.67,82.24 L455.29,80.94 L455.90,79.64 L456.52,78.34 L457.13,77.03 L457.74,75.73 L458.35,74.43 L458.96,73.12 L459.58,71.81 L460.18,70.51 L460.79,69.20 L461.40,67.89 L462.01,66.58 L462.62,65.27 L463.22,63.96 L463.83,62.64 L464.43,61.33 L465.03,60.01 L465.63,58.69 L466.24,57.38 L466.84,56.06 L467.45,54.75 L468.06,53.44 L468.68,52.13 L469.31,50.84 L469.94,49.55 L470.59,48.27 L471.25,47.00 L471.93,45.74 L472.62,44.49 L473.33,43.26 L474.05,42.04 L474.80,40.85 L475.57,39.67 L476.36,38.50 L477.18,37.36 L478.03,36.25 L478.90,35.15 L479.80,34.08 L480.73,33.04 L481.70,32.03 L482.70,31.04 L483.73,30.08 L484.80,29.16 L485.92,28.27 L487.07,27.41 L488.26,26.58 L489.50,25.80 L489.50,27.56 L489.51,29.32 L489.53,31.08 L489.57,32.83 L489.61,34.58 L489.67,36.33 L489.74,38.08 L489.82,39.83 L489.91,41.57 L490.02,43.31 L490.13,45.05 L490.25,46.79 L490.39,48.53 L490.54,50.26 L490.70,52.00 L490.87,53.74 L491.05,55.47 L491.24,57.21 L491.44,58.94 L491.65,60.68 L491.88,62.41 L492.11,64.15 L492.36,65.88 L492.61,67.62 L492.88,69.35 L493.16,71.09 L493.44,72.82 L493.74,74.55 L494.04,76.28 L494.36,78.01 L494.68,79.74 L495.01,81.47 L495.36,83.20 L495.71,84.92 L496.07,86.64 L496.43,88.36 L496.81,90.08 L497.19,91.80 L497.59,93.51 L497.99,95.22 L498.41,96.92 L498.84,98.62 L499.29,100.31 L499.76,101.99 L500.24,103.67 L500.75,105.33 L501.29,106.99 L501.84,108.64 L502.43,110.27 L503.03,111.90 L503.65,113.52 L504.30,115.12 L504.97,116.72 L505.66,118.31 L506.37,119.90 L507.10,121.47 L507.84,123.04 L508.61,124.59 L509.39,126.15 L510.19,127.69 L511.01,129.23 L511.84,130.76 L512.68,132.29 L513.55,133.81 L514.42,135.32 L515.31,136.83 L516.21,138.34 L517.13,139.83 L518.05,141.33 L518.99,142.82 L519.94,144.31 L520.90,145.79 L521.87,147.26 L522.85,148.73 L523.85,150.19 L524.85,151.64 L525.88,153.08 L526.91,154.51 L527.96,155.93 L529.02,157.34 L530.09,158.74 L531.18,160.12 L532.29,161.49 L533.40,162.85 L534.53,164.19 L535.68,165.51 L536.84,166.82 L538.02,168.11 L539.21,169.38 L540.42,170.64 L541.64,171.88 L542.88,173.11 L544.13,174.31 L545.40,175.50 L546.68,176.68 L547.97,177.84 L549.28,178.98 L550.60,180.11 L551.94,181.22 L553.29,182.31 L554.65,183.39 L556.03,184.46 L557.42,185.50 L558.82,186.54 L560.23,187.56 L561.66,188.56 L563.10,189.55 L564.55,190.52 L566.02,191.48 L567.49,192.43 L568.97,193.37 L570.47,194.29 L571.96,195.21 L573.47,196.11 L574.98,197.01 L576.50,197.91 L578.02,198.79 L579.54,199.68 L581.07,200.55 L582.59,201.43 L584.12,202.30 L585.65,203.18 L587.18,204.05 L588.70,204.92 L590.23,205.78 L591.76,206.65 L593.28,207.51 L594.81,208.37 L596.34,209.22 L597.87,210.07 L599.41,210.91 L600.94,211.75 L602.48,212.59 L604.02,213.42 L605.56,214.24 L607.11,215.06 L608.65,215.86 L610.21,216.66 L611.76,217.46 L613.32,218.24 L614.88,219.02 L616.45,219.78 L618.02,220.54 L619.60,221.29 L621.18,222.02 L622.77,222.75 L624.36,223.46 L625.96,224.17 L627.57,224.86 L629.18,225.53 L630.79,226.20 L632.42,226.85 L634.05,227.49 L635.69,228.11 L637.34,228.72 L638.99,229.31 L640.65,229.89 L642.32,230.45 L644.00,231.00" stroke="#aa6fe2" stroke-width="1.70" fill="none" stroke-linejoin="round" stroke-linecap="round"/>
<rect x="48.70" y="2.20" width="287.30" height="230.40" fill="none" stroke="#000" stroke-width="2"/>
<path d="M77.43,232.60V230.20 M106.16,232.60V227.80 M134.89,232.60V230.20 M163.62,232.60V227.80 M192.35,232.60V230.20 M221.08,232.60V227.80 M249.81,232.60V230.20 M278.54,232.60V227.80 M307.27,232.60V230.20 M48.70,26.85H52.70 M48.70,52.57H50.90 M48.70,78.30H52.70 M48.70,104.03H50.90 M48.70,129.75H52.70 M48.70,155.48H50.90 M48.70,181.20H52.70 M48.70,206.93H50.90" stroke="#000" stroke-width="1.8" fill="none"/>
<rect x="395.90" y="2.20" width="287.00" height="230.40" fill="none" stroke="#000" stroke-width="2"/>
<path d="M415.03,232.60V230.20 M434.17,232.60V227.80 M453.30,232.60V230.20 M472.43,232.60V227.80 M491.57,232.60V230.20 M510.70,232.60V227.80 M529.83,232.60V230.20 M548.97,232.60V227.80 M568.10,232.60V230.20 M587.23,232.60V227.80 M606.37,232.60V230.20 M625.50,232.60V227.80 M644.63,232.60V230.20 M663.77,232.60V227.80 M395.90,27.00H399.90 M395.90,52.40H398.10 M395.90,77.80H399.90 M395.90,103.20H398.10 M395.90,128.60H399.90 M395.90,154.00H398.10 M395.90,179.40H399.90 M395.90,204.80H398.10" stroke="#000" stroke-width="1.8" fill="none"/>
<g font-family="Liberation Serif" font-weight="bold" font-size="13.6" fill="#000">
<text transform="translate(48.70,247.7) scale(0.950,1)" text-anchor="middle">0</text>
<text transform="translate(106.16,247.7) scale(0.950,1)" text-anchor="middle">20</text>
<text transform="translate(163.62,247.7) scale(0.950,1)" text-anchor="middle">40</text>
<text transform="translate(221.08,247.7) scale(0.950,1)" text-anchor="middle">60</text>
<text transform="translate(278.54,247.7) scale(0.950,1)" text-anchor="middle">80</text>
<text transform="translate(336.00,247.7) scale(0.950,1)" text-anchor="middle">100</text>
<text transform="translate(395.90,247.7) scale(0.950,1)" text-anchor="middle">0</text>
<text transform="translate(434.17,247.7) scale(0.950,1)" text-anchor="middle">20</text>
<text transform="translate(472.43,247.7) scale(0.950,1)" text-anchor="middle">40</text>
<text transform="translate(510.70,247.7) scale(0.950,1)" text-anchor="middle">60</text>
<text transform="translate(548.97,247.7) scale(0.950,1)" text-anchor="middle">80</text>
<text transform="translate(587.23,247.7) scale(0.950,1)" text-anchor="middle">100</text>
<text transform="translate(625.50,247.7) scale(0.950,1)" text-anchor="middle">120</text>
<text transform="translate(663.77,247.7) scale(0.950,1)" text-anchor="middle">140</text>
<text transform="translate(43.20,31.05) scale(0.950,1)" text-anchor="end">0.5</text>
<text transform="translate(43.20,82.50) scale(0.950,1)" text-anchor="end">0.0</text>
<text transform="translate(43.20,133.95) scale(0.950,1)" text-anchor="end">-0.5</text>
<text transform="translate(43.20,185.40) scale(0.950,1)" text-anchor="end">-1.0</text>
<text transform="translate(43.20,236.85) scale(0.950,1)" text-anchor="end">-1.5</text>
<text transform="translate(390.20,31.20) scale(0.950,1)" text-anchor="end">0.5</text>
<text transform="translate(390.20,82.00) scale(0.950,1)" text-anchor="end">0.0</text>
<text transform="translate(390.20,132.80) scale(0.950,1)" text-anchor="end">-0.5</text>
<text transform="translate(390.20,183.60) scale(0.950,1)" text-anchor="end">-1.0</text>
<text transform="translate(390.20,234.40) scale(0.950,1)" text-anchor="end">-1.5</text>
</g>
<g font-family="Liberation Serif" font-weight="bold" font-size="19.7" fill="#000">
<text font-size="20.6" transform="translate(192.1,274.6) scale(0.955,1)" text-anchor="middle">Time/ s</text>
<text font-size="20.6" transform="translate(539.2,274.4) scale(0.955,1)" text-anchor="middle">Time/ s</text>
<text font-size="20.2" transform="translate(15.9,116.7) rotate(-90)" text-anchor="middle">E/ V vs. SCE</text>
<text font-size="20.2" transform="translate(362.8,116.65) rotate(-90)" text-anchor="middle">E/ V vs. SCE</text>
</g>
<g font-family="Liberation Serif" font-weight="bold" font-size="20" fill="#c40a0a">
<text x="5.9" y="17" letter-spacing="1.1">(A)</text>
<text x="349.4" y="16.8" letter-spacing="1.1">(B)</text>
</g>
<rect x="216.6" y="8.6" width="111.9" height="46.6" fill="#fff" stroke="#666" stroke-width="1.1"/>
<path d="M217.2,16.70H245.2" stroke="#4b4b4b" stroke-width="1.8"/>
<text x="248.2" y="21.00" font-family="Liberation Serif" font-weight="bold" font-size="12" fill="#000">PAN</text>
<path d="M217.2,32.00H245.2" stroke="#ee4040" stroke-width="1.8"/>
<text x="248.2" y="36.30" font-family="Liberation Serif" font-weight="bold" font-size="12" fill="#000">PAN+PBN</text>
<path d="M217.2,46.80H245.2" stroke="#2a74de" stroke-width="1.8"/>
<text x="248.2" y="51.10" font-family="Liberation Serif" font-weight="bold" font-size="12" fill="#000">Nanocomposite</text>
<rect x="578.7" y="7" width="91.5" height="108.6" fill="#fff" stroke="#888" stroke-width="1.2"/>
<path d="M580.2,21.20H608" stroke="#4b4b4b" stroke-width="1.8"/>
<text x="611.3" y="25.20" font-family="Liberation Serif" font-weight="bold" font-size="12.4" fill="#000">5 mA</text>
<text x="644.40" y="25.20" font-family="Liberation Serif" font-weight="bold" font-size="12.4" fill="#000">g</text>
<path d="M651.40,17.10H655.60" stroke="#000" stroke-width="0.8"/>
<text x="655.80" y="20.90" font-family="Liberation Serif" font-weight="bold" font-size="12.2" fill="#000">1</text>
<path d="M580.2,42.80H608" stroke="#ee4040" stroke-width="1.8"/>
<text x="611.3" y="46.80" font-family="Liberation Serif" font-weight="bold" font-size="12.4" fill="#000">8 mA</text>
<text x="644.40" y="46.80" font-family="Liberation Serif" font-weight="bold" font-size="12.4" fill="#000">g</text>
<path d="M651.40,38.70H655.60" stroke="#000" stroke-width="0.8"/>
<text x="655.80" y="42.50" font-family="Liberation Serif" font-weight="bold" font-size="12.2" fill="#000">1</text>
<path d="M580.2,64.20H608" stroke="#2a74de" stroke-width="1.8"/>
<text x="611.3" y="68.20" font-family="Liberation Serif" font-weight="bold" font-size="12.8" fill="#000">11 mA</text>
<text x="651.30" y="68.20" font-family="Liberation Serif" font-weight="bold" font-size="12.4" fill="#000">g</text>
<path d="M658.30,60.10H662.50" stroke="#000" stroke-width="0.8"/>
<text x="662.70" y="63.90" font-family="Liberation Serif" font-weight="bold" font-size="12.2" fill="#000">1</text>
<path d="M580.2,85.80H608" stroke="#3aa96a" stroke-width="1.8"/>
<text x="611.3" y="89.80" font-family="Liberation Serif" font-weight="bold" font-size="12.8" fill="#000">13 mA</text>
<text x="651.30" y="89.80" font-family="Liberation Serif" font-weight="bold" font-size="12.4" fill="#000">g</text>
<path d="M658.30,81.70H662.50" stroke="#000" stroke-width="0.8"/>
<text x="662.70" y="85.50" font-family="Liberation Serif" font-weight="bold" font-size="12.2" fill="#000">1</text>
<path d="M580.2,107.60H608" stroke="#aa6fe2" stroke-width="1.8"/>
<text x="611.3" y="111.60" font-family="Liberation Serif" font-weight="bold" font-size="12.8" fill="#000">16 mA</text>
<text x="651.30" y="111.60" font-family="Liberation Serif" font-weight="bold" font-size="12.4" fill="#000">g</text>
<path d="M658.30,103.50H662.50" stroke="#000" stroke-width="0.8"/>
<text x="662.70" y="107.30" font-family="Liberation Serif" font-weight="bold" font-size="12.2" fill="#000">1</text>
</svg>
</body></html>
